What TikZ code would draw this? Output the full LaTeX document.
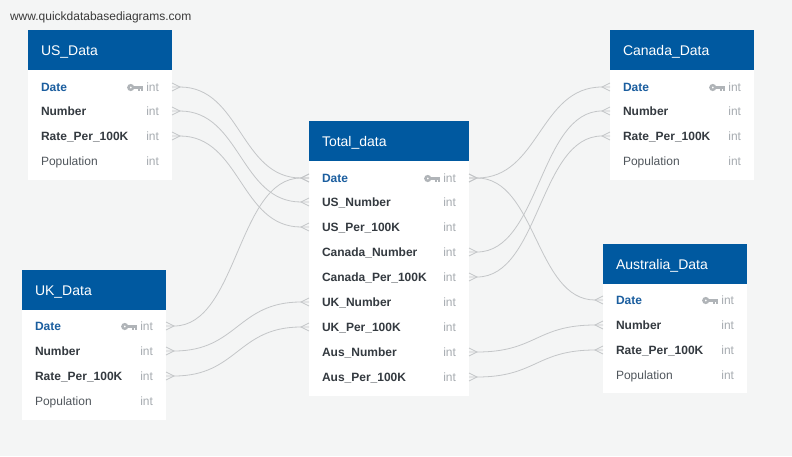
\documentclass[tikz,border=0pt]{standalone}
\usepackage{fontspec}
\setmainfont{Liberation Sans}
\usetikzlibrary{calc}
\definecolor{bg}{HTML}{F4F5F5}
\definecolor{hdr}{HTML}{0059A0}
\definecolor{pkc}{HTML}{1B5E9F}
\definecolor{fld}{HTML}{343A40}
\definecolor{pop}{HTML}{50565C}
\definecolor{typ}{HTML}{A7ACB1}
\definecolor{keyc}{HTML}{B0B4B8}
\definecolor{lnk}{HTML}{C4C6C8}
\definecolor{web}{HTML}{3A3A3A}
\tikzset{
  hdrbox/.style={fill=hdr, draw=none, minimum height=40pt},
  bodybox/.style={fill=white, draw=none},
  rowbox/.style={draw=none, minimum height=25pt},
  titletxt/.style={text=white, font=\fontsize{14}{16}\selectfont, text height=10pt, text depth=0pt},
  pkfield/.style={text=pkc, font=\fontsize{12}{14}\selectfont\bfseries, text height=8.6pt, text depth=0pt},
  fkfield/.style={text=fld, font=\fontsize{12}{14}\selectfont\bfseries, text height=8.6pt, text depth=0pt},
  plainfield/.style={text=pop, font=\fontsize{12}{14}\selectfont, text height=8.6pt, text depth=0pt},
  typetxt/.style={text=typ, font=\fontsize{12}{14}\selectfont, text height=8.6pt, text depth=0pt},
  lnkline/.style={draw=lnk, line width=0.8pt},
}
\newcommand\dbtable[6]{%
  \node[hdrbox, minimum width=#4, anchor=north west] (#1) at (#2,#3) {};
  \node[bodybox, minimum width=#4, minimum height=#5, anchor=north west] (#1-body) at (#2,#3+40) {};
  \node[titletxt, anchor=west] (#1-title) at ($(#1.west)+(13,0)$) {#6};
}
\newcommand\keyicon[1]{%
  \begin{scope}[shift={($(#1.west)+(-3,0.5)$)}]
    \draw[keyc, line width=2.4pt] (-12.6,0) circle (2.3);
    \fill[keyc] (-10,-1.5) rectangle (0,1.3);
    \fill[keyc] (-5.4,1) rectangle (-3.4,3.4);
    \fill[keyc] (-2.2,1) rectangle (0,3.4);
  \end{scope}}
\newcommand\dbrow[7]{%
  \node[rowbox, minimum width={#3-#2}] (#1) at ({(#2+#3)/2},#4) {};
  \node[#6, anchor=west] (#1-l) at ($(#1.west)+(13,0)$) {#5};
  \node[typetxt, anchor=east] (#1-t) at ($(#1.east)+(-13,0)$) {int};
  \ifnum#7=1 \keyicon{#1-t}\fi
}
\newcommand\dblink[2]{%
  \draw[lnkline] ($(#1.east)+(0,-4)$) -- ($(#1.east)+(8,0)$) -- ($(#1.east)+(0,4)$);
  \draw[lnkline] ($(#2.west)+(0,-4)$) -- ($(#2.west)+(-8,0)$) -- ($(#2.west)+(0,4)$);
  \draw[lnkline] let \p1=($(#1.east)+(8,0)$), \p2=($(#2.west)+(-8,0)$) in
    (#1.east) -- (\p1) .. controls ({(\x1+\x2)/2},\y1) and ({(\x1+\x2)/2},\y2) .. (\p2) -- (#2.west);
}
\begin{document}
\begin{tikzpicture}[x=1pt,y=-1pt, every node/.style={inner sep=0pt, outer sep=0pt}]
\fill[bg] (0,0) rectangle (792,456);
\useasboundingbox (0,0) rectangle (792,456);
\node[anchor=west, text=web, font=\fontsize{12}{14}\selectfont, text height=8.6pt, text depth=0pt] (site) at (10,16) {www.quickdatabasediagrams.com};

% US_Data
\dbtable{US}{28}{30}{144}{110}{US\_Data}
\dbrow{US-date}{28}{172}{87}{Date}{pkfield}{1}
\dbrow{US-num}{28}{172}{111}{Number}{fkfield}{0}
\dbrow{US-rate}{28}{172}{136}{Rate\_Per\_100K}{fkfield}{0}
\dbrow{US-pop}{28}{172}{161}{Population}{plainfield}{0}

% UK_Data
\dbtable{UK}{22}{270}{144}{110}{UK\_Data}
\dbrow{UK-date}{22}{166}{326}{Date}{pkfield}{1}
\dbrow{UK-num}{22}{166}{351}{Number}{fkfield}{0}
\dbrow{UK-rate}{22}{166}{376}{Rate\_Per\_100K}{fkfield}{0}
\dbrow{UK-pop}{22}{166}{401}{Population}{plainfield}{0}

% Canada_Data
\dbtable{CA}{610}{30}{144}{110}{Canada\_Data}
\dbrow{CA-date}{610}{754}{87}{Date}{pkfield}{1}
\dbrow{CA-num}{610}{754}{111}{Number}{fkfield}{0}
\dbrow{CA-rate}{610}{754}{136}{Rate\_Per\_100K}{fkfield}{0}
\dbrow{CA-pop}{610}{754}{161}{Population}{plainfield}{0}

% Australia_Data
\dbtable{AU}{603}{244}{144}{109}{Australia\_Data}
\dbrow{AU-date}{603}{747}{300}{Date}{pkfield}{1}
\dbrow{AU-num}{603}{747}{325}{Number}{fkfield}{0}
\dbrow{AU-rate}{603}{747}{350}{Rate\_Per\_100K}{fkfield}{0}
\dbrow{AU-pop}{603}{747}{375}{Population}{plainfield}{0}

% Total_data
\dbtable{T}{309}{121}{160}{235}{Total\_data}
\dbrow{T-date}{309}{469}{178}{Date}{pkfield}{1}
\dbrow{T-usnum}{309}{469}{202}{US\_Number}{fkfield}{0}
\dbrow{T-usper}{309}{469}{227}{US\_Per\_100K}{fkfield}{0}
\dbrow{T-canum}{309}{469}{252}{Canada\_Number}{fkfield}{0}
\dbrow{T-caper}{309}{469}{277}{Canada\_Per\_100K}{fkfield}{0}
\dbrow{T-uknum}{309}{469}{302}{UK\_Number}{fkfield}{0}
\dbrow{T-ukper}{309}{469}{327}{UK\_Per\_100K}{fkfield}{0}
\dbrow{T-ausnum}{309}{469}{352}{Aus\_Number}{fkfield}{0}
\dbrow{T-ausper}{309}{469}{377}{Aus\_Per\_100K}{fkfield}{0}

% relationships
\dblink{US-date}{T-date}
\dblink{US-num}{T-usnum}
\dblink{US-rate}{T-usper}
\dblink{UK-date}{T-date}
\dblink{UK-num}{T-uknum}
\dblink{UK-rate}{T-ukper}
\dblink{T-date}{CA-date}
\dblink{T-date}{AU-date}
\dblink{T-canum}{CA-num}
\dblink{T-caper}{CA-rate}
\dblink{T-ausnum}{AU-num}
\dblink{T-ausper}{AU-rate}
\end{tikzpicture}
\end{document}
